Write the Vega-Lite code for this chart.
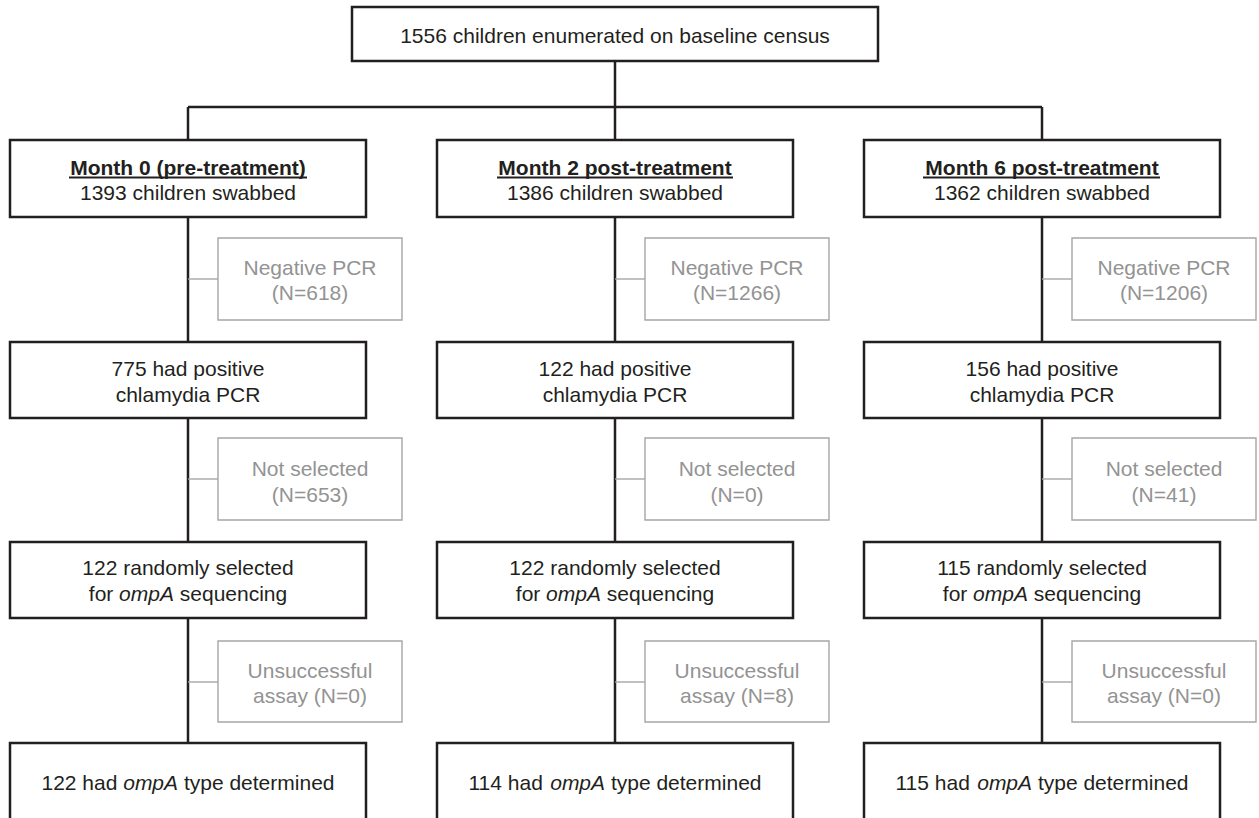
{
  "$schema": "https://vega.github.io/schema/vega-lite/v6.json",
  "width": 1259,
  "height": 818,
  "autosize": {"type": "fit", "contains": "padding"},
  "padding": 0,
  "background": "white",
  "view": {"stroke": null},
  "config": {"text": {"font": "Liberation Sans", "fontSize": 21, "baseline": "alphabetic"}},
  "datasets": {
    "blackRules": [
      {"x": 615, "x2": 615, "y": 61, "y2": 107},
      {"x": 188, "x2": 1042, "y": 107, "y2": 107},
      {"x": 188, "x2": 188, "y": 107, "y2": 140},
      {"x": 615, "x2": 615, "y": 107, "y2": 140},
      {"x": 1042, "x2": 1042, "y": 107, "y2": 140},
      {"x": 188, "x2": 188, "y": 217, "y2": 743},
      {"x": 615, "x2": 615, "y": 217, "y2": 743},
      {"x": 1042, "x2": 1042, "y": 217, "y2": 743}
    ],
    "grayRules": [
      {"x": 188, "x2": 218, "y": 279, "y2": 279},
      {"x": 188, "x2": 218, "y": 479, "y2": 479},
      {"x": 188, "x2": 218, "y": 682, "y2": 682},
      {"x": 615, "x2": 645, "y": 279, "y2": 279},
      {"x": 615, "x2": 645, "y": 479, "y2": 479},
      {"x": 615, "x2": 645, "y": 682, "y2": 682},
      {"x": 1042, "x2": 1072, "y": 279, "y2": 279},
      {"x": 1042, "x2": 1072, "y": 479, "y2": 479},
      {"x": 1042, "x2": 1072, "y": 682, "y2": 682}
    ],
    "underlines": [
      {"x": 69, "x2": 307, "y": 177.5, "y2": 177.5},
      {"x": 497, "x2": 733, "y": 177.5, "y2": 177.5},
      {"x": 923, "x2": 1160, "y": 177.5, "y2": 177.5}
    ],
    "blackBoxes": [
      {"x": 352, "x2": 878, "y": 7, "y2": 61},
      {"x": 10, "x2": 366, "y": 140, "y2": 217},
      {"x": 437, "x2": 793, "y": 140, "y2": 217},
      {"x": 864, "x2": 1220, "y": 140, "y2": 217},
      {"x": 10, "x2": 366, "y": 342, "y2": 418},
      {"x": 437, "x2": 793, "y": 342, "y2": 418},
      {"x": 864, "x2": 1220, "y": 342, "y2": 418},
      {"x": 10, "x2": 366, "y": 542, "y2": 618},
      {"x": 437, "x2": 793, "y": 542, "y2": 618},
      {"x": 864, "x2": 1220, "y": 542, "y2": 618},
      {"x": 10, "x2": 366, "y": 743, "y2": 840},
      {"x": 437, "x2": 793, "y": 743, "y2": 840},
      {"x": 864, "x2": 1220, "y": 743, "y2": 840}
    ],
    "grayBoxes": [
      {"x": 218, "x2": 402, "y": 238, "y2": 320},
      {"x": 218, "x2": 402, "y": 438, "y2": 520},
      {"x": 218, "x2": 402, "y": 641, "y2": 722},
      {"x": 645, "x2": 829, "y": 238, "y2": 320},
      {"x": 645, "x2": 829, "y": 438, "y2": 520},
      {"x": 645, "x2": 829, "y": 641, "y2": 722},
      {"x": 1072, "x2": 1256, "y": 238, "y2": 320},
      {"x": 1072, "x2": 1256, "y": 438, "y2": 520},
      {"x": 1072, "x2": 1256, "y": 641, "y2": 722}
    ],
    "centerText": [
      {"x": 615, "y": 43, "label": "1556 children enumerated on baseline census"},
      {"x": 188, "y": 200, "label": "1393 children swabbed"},
      {"x": 615, "y": 200, "label": "1386 children swabbed"},
      {"x": 1042, "y": 200, "label": "1362 children swabbed"},
      {"x": 188, "y": 376, "label": "775 had positive"},
      {"x": 188, "y": 402, "label": "chlamydia PCR"},
      {"x": 615, "y": 376, "label": "122 had positive"},
      {"x": 615, "y": 402, "label": "chlamydia PCR"},
      {"x": 1042, "y": 376, "label": "156 had positive"},
      {"x": 1042, "y": 402, "label": "chlamydia PCR"},
      {"x": 188, "y": 575, "label": "122 randomly selected"},
      {"x": 615, "y": 575, "label": "122 randomly selected"},
      {"x": 1042, "y": 575, "label": "115 randomly selected"}
    ],
    "boldText": [
      {"x": 188, "y": 175, "label": "Month 0 (pre-treatment)"},
      {"x": 615, "y": 175, "label": "Month 2 post-treatment"},
      {"x": 1042, "y": 175, "label": "Month 6 post-treatment"}
    ],
    "leftText": [
      {"x": 88.8, "y": 601, "label": "for"},
      {"x": 179.8, "y": 601, "label": "sequencing"},
      {"x": 515.8, "y": 601, "label": "for"},
      {"x": 606.8, "y": 601, "label": "sequencing"},
      {"x": 942.8, "y": 601, "label": "for"},
      {"x": 1033.8, "y": 601, "label": "sequencing"},
      {"x": 41.5, "y": 790, "label": "122 had"},
      {"x": 183.9, "y": 790, "label": "type determined"},
      {"x": 468.5, "y": 790, "label": "114 had"},
      {"x": 610.9, "y": 790, "label": "type determined"},
      {"x": 895.5, "y": 790, "label": "115 had"},
      {"x": 1037.9, "y": 790, "label": "type determined"}
    ],
    "italicText": [
      {"x": 119.1, "y": 601, "label": "ompA"},
      {"x": 546.1, "y": 601, "label": "ompA"},
      {"x": 973.1, "y": 601, "label": "ompA"},
      {"x": 123.2, "y": 790, "label": "ompA"},
      {"x": 550.2, "y": 790, "label": "ompA"},
      {"x": 977.2, "y": 790, "label": "ompA"}
    ],
    "grayText": [
      {"x": 310, "y": 275, "label": "Negative PCR"},
      {"x": 310, "y": 300, "label": "(N=618)"},
      {"x": 737, "y": 275, "label": "Negative PCR"},
      {"x": 737, "y": 300, "label": "(N=1266)"},
      {"x": 1164, "y": 275, "label": "Negative PCR"},
      {"x": 1164, "y": 300, "label": "(N=1206)"},
      {"x": 310, "y": 476, "label": "Not selected"},
      {"x": 310, "y": 502, "label": "(N=653)"},
      {"x": 737, "y": 476, "label": "Not selected"},
      {"x": 737, "y": 502, "label": "(N=0)"},
      {"x": 1164, "y": 476, "label": "Not selected"},
      {"x": 1164, "y": 502, "label": "(N=41)"},
      {"x": 310, "y": 678, "label": "Unsuccessful"},
      {"x": 310, "y": 703, "label": "assay (N=0)"},
      {"x": 737, "y": 678, "label": "Unsuccessful"},
      {"x": 737, "y": 703, "label": "assay (N=8)"},
      {"x": 1164, "y": 678, "label": "Unsuccessful"},
      {"x": 1164, "y": 703, "label": "assay (N=0)"}
    ]
  },
  "encoding": {
    "x": {"field": "x", "type": "quantitative", "scale": {"domain": [0, 1259], "nice": false, "zero": false}, "axis": null},
    "y": {"field": "y", "type": "quantitative", "scale": {"domain": [0, 818], "nice": false, "zero": false, "reverse": true}, "axis": null}
  },
  "layer": [
    {
      "data": {"name": "blackRules"},
      "mark": {"type": "rule", "color": "#231f20", "strokeWidth": 2.5},
      "encoding": {"x2": {"field": "x2"}, "y2": {"field": "y2"}}
    },
    {
      "data": {"name": "grayRules"},
      "mark": {"type": "rule", "color": "#a6a6a6", "strokeWidth": 1.4},
      "encoding": {"x2": {"field": "x2"}, "y2": {"field": "y2"}}
    },
    {
      "data": {"name": "blackBoxes"},
      "mark": {"type": "rect", "fill": "white", "stroke": "#231f20", "strokeWidth": 2.5, "clip": true},
      "encoding": {"x2": {"field": "x2"}, "y2": {"field": "y2"}}
    },
    {
      "data": {"name": "grayBoxes"},
      "mark": {"type": "rect", "fill": "white", "stroke": "#a6a6a6", "strokeWidth": 1.4},
      "encoding": {"x2": {"field": "x2"}, "y2": {"field": "y2"}}
    },
    {
      "data": {"name": "underlines"},
      "mark": {"type": "rule", "color": "#231f20", "strokeWidth": 1.8},
      "encoding": {"x2": {"field": "x2"}, "y2": {"field": "y2"}}
    },
    {
      "data": {"name": "centerText"},
      "mark": {"type": "text", "align": "center", "color": "#231f20"},
      "encoding": {"text": {"field": "label"}}
    },
    {
      "data": {"name": "boldText"},
      "mark": {"type": "text", "align": "center", "color": "#231f20", "fontWeight": "bold"},
      "encoding": {"text": {"field": "label"}}
    },
    {
      "data": {"name": "leftText"},
      "mark": {"type": "text", "align": "left", "color": "#231f20"},
      "encoding": {"text": {"field": "label"}}
    },
    {
      "data": {"name": "italicText"},
      "mark": {"type": "text", "align": "left", "color": "#231f20", "fontStyle": "italic"},
      "encoding": {"text": {"field": "label"}}
    },
    {
      "data": {"name": "grayText"},
      "mark": {"type": "text", "align": "center", "color": "#939393"},
      "encoding": {"text": {"field": "label"}}
    }
  ]
}
